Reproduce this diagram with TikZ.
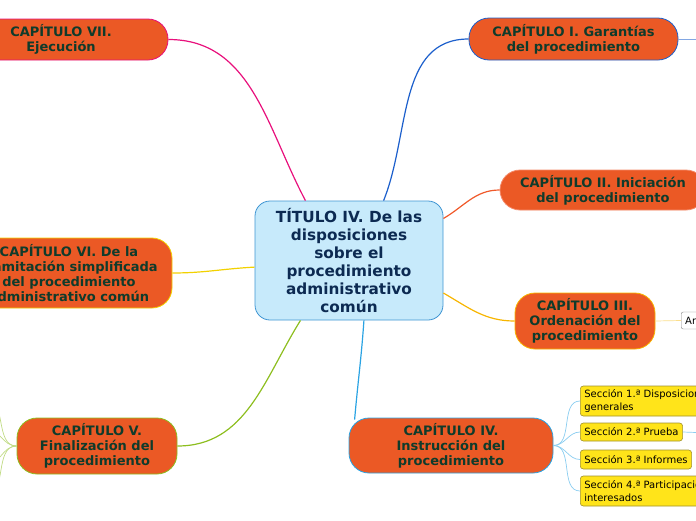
\documentclass[tikz,border=0pt]{standalone}
\usepackage{fontspec}
\setmainfont{DejaVu Sans}
\definecolor{capfill}{HTML}{EB5925}
\definecolor{captext}{HTML}{0F3B2B}
\definecolor{titlefill}{HTML}{C7EAFB}
\definecolor{titleline}{HTML}{3F95D3}
\definecolor{titletext}{HTML}{0C2A52}
\definecolor{linevii}{HTML}{E8107C}
\definecolor{linei}{HTML}{1C5FCC}
\definecolor{lineii}{HTML}{F0592A}
\definecolor{lineiii}{HTML}{F7B500}
\definecolor{lineiv}{HTML}{2AA3E3}
\definecolor{linev}{HTML}{8DBE1F}
\definecolor{linevi}{HTML}{F2D100}
\definecolor{secfill}{HTML}{FFE41A}
\definecolor{secline}{HTML}{A0912C}
\begin{document}
\begin{tikzpicture}[x=1pt, y=-1pt,
    chapter/.style={draw, line width=0.8pt, fill=capfill, text=captext, rounded corners=20pt,
      align=center, inner sep=0pt, font=\bfseries\fontsize{13}{15}\selectfont},
    section/.style={draw=secline, line width=0.6pt, fill=secfill, rounded corners=3pt, anchor=west,
      align=left, inner xsep=4pt, inner ysep=0pt, font=\fontsize{10}{13}\selectfont},
    branch/.style={line width=1.2pt},
    twig/.style={line width=0.7pt}]
  \useasboundingbox (0,0) rectangle (696,520);
  \clip (0,0) rectangle (696,520);

  \node [draw=titleline, line width=0.8pt, fill=titlefill, text=titletext, rounded corners=15pt,
    align=center, inner sep=0pt, minimum width=188pt, minimum height=119pt,
    font=\bfseries\fontsize{15.3}{18}\selectfont] (title) at (349,260.5)
    {TÍTULO IV. De las\\disposiciones\\sobre el\\procedimiento\\administrativo\\común};

  \node [chapter, draw=linevii, minimum width=214pt, minimum height=41pt] (capvii) at (61,39.5)
    {CAPÍTULO VII.\\Ejecución};
  \node [chapter, draw=linei, minimum width=209pt, minimum height=42pt] (capi) at (573.5,39)
    {CAPÍTULO I. Garantías\\del procedimiento};
  \node [chapter, draw=lineii!70, minimum width=206pt, minimum height=40pt] (capii) at (603,190)
    {CAPÍTULO II. Iniciación\\del procedimiento};
  \node [chapter, draw=lineiii, minimum width=140pt, minimum height=56pt] (capiii) at (585,321)
    {CAPÍTULO III.\\Ordenación del\\procedimiento};
  \node [chapter, draw=lineiv, minimum width=204pt, minimum height=55pt] (capiv) at (451,445.5)
    {CAPÍTULO IV.\\Instrucción del\\procedimiento};
  \node [chapter, draw=linev, minimum width=160pt, minimum height=56pt] (capv) at (97,446)
    {CAPÍTULO V.\\Finalización del\\procedimiento};
  \node [chapter, draw=linevi, minimum width=206pt, minimum height=70pt] (capvi) at (69,273)
    {CAPÍTULO VI. De la\\tramitación simplificada\\del procedimiento\\administrativo común};

  \node [section, minimum height=30pt] (sec1) at (580,401) {Sección 1.ª Disposiciones\\generales};
  \node [section, minimum height=18pt] (sec2) at (580,432) {Sección 2.ª Prueba};
  \node [section, minimum height=19pt] (sec3) at (580,459.5) {Sección 3.ª Informes};
  \node [section, minimum height=30pt] (sec4) at (580,491) {Sección 4.ª Participación de los\\interesados};
  \node [draw=gray, fill=white, rounded corners=2pt, anchor=west, inner xsep=4pt, inner ysep=0pt,
    minimum height=17pt, font=\fontsize{10}{12}\selectfont] (art) at (681,320.5) {Artículos};

  \coordinate (ioff) at (710,39);
  \coordinate (secoff) at (710,433);
  \coordinate (va) at (-15,398);
  \coordinate (vb) at (-15,428);
  \coordinate (vc) at (-15,466);
  \coordinate (vd) at (-15,496);

  \draw [branch, linevii] (capvii.east) to[out=0, in=118] (title.126.5);
  \draw [branch, linei] (title.60.3) to[out=68, in=180] (capi.west);
  \draw [branch, lineii] (title.24.3) to[out=30, in=180] (capii.west);
  \draw [branch, lineiii] (title.-19) to[out=-30, in=180] (capiii.west);
  \draw [branch, lineiv] (title.-76) to[out=-94, in=85] ([xshift=6pt, yshift=-2pt]capiv.north west);
  \draw [branch, linev] (title.231.7) to[out=238, in=0] (capv.east);
  \draw [branch, linevi] (title.184) to[out=183, in=0] (capvi.east);

  \draw [twig, linei!55] (capi.east) -- (ioff);
  \draw [twig, lineiii!45] (capiii.east) -- (art.west);
  \draw [twig, lineiv!55] (capiv.east) to[out=0, in=180] (sec1.west);
  \draw [twig, lineiv!55] (capiv.east) to[out=0, in=180] (sec2.west);
  \draw [twig, lineiv!55] (capiv.east) to[out=0, in=180] (sec3.west);
  \draw [twig, lineiv!55] (capiv.east) to[out=0, in=180] (sec4.west);
  \draw [twig, lineiv!55] (sec2.east) -- (secoff);
  \draw [twig, linev!55] (capv.west) to[out=180, in=0] (va);
  \draw [twig, linev!55] (capv.west) to[out=180, in=0] (vb);
  \draw [twig, linev!55] (capv.west) to[out=180, in=0] (vc);
  \draw [twig, linev!55] (capv.west) to[out=180, in=0] (vd);
\end{tikzpicture}
\end{document}
